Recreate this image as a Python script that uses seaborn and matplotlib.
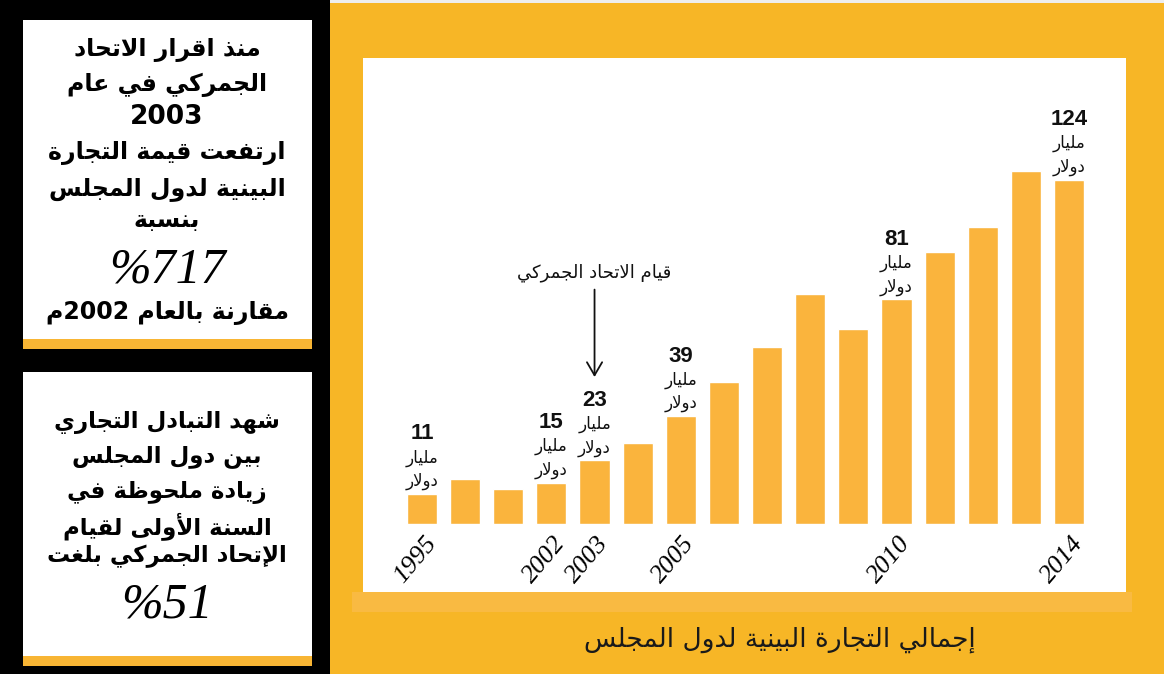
import re
import matplotlib
matplotlib.use("Agg")
import matplotlib.pyplot as plt
import matplotlib.transforms as mtransforms
from matplotlib.patches import Rectangle
import pandas as pd
import seaborn as sns

# ---- data -------------------------------------------------------------
years = ["1995", "2000", "2001", "2002", "2003", "2004", "2005", "2006",
         "2007", "2008", "2009", "2010", "2011", "2012", "2013", "2014"]
trade_bn_usd = [11, 16.2, 12.7, 15, 23, 29.1, 39, 51.3,
                63.7, 82.8, 70.1, 81, 98.1, 106.8, 127.2, 124]
tick_years = ["1995", "2002", "2003", "2005", "2010", "2014"]
labelled_years = ["1995", "2002", "2003", "2005", "2010", "2014"]
union_year = "2003"

unit_line1 = "مليار"
unit_line2 = "دولار"
union_note = "قيام الاتحاد الجمركي"
caption = "إجمالي التجارة البينية لدول المجلس"

box1_lines = ["منذ اقرار الاتحاد", "الجمركي في عام", "2003",
              "ارتفعت قيمة التجارة", "البينية لدول المجلس", "بنسبة"]
box1_pct = "%717"
box1_tail = "مقارنة بالعام 2002م"
box2_lines = ["شهد التبادل التجاري", "بين دول المجلس", "زيادة ملحوظة في",
              "السنة الأولى لقيام", "الإتحاد الجمركي بلغت"]
box2_pct = "%51"

# ---- minimal Arabic shaping (contextual forms + right-to-left order) ---
RIGHT_JOIN = {"آ": 0xFE81, "أ": 0xFE83, "ؤ": 0xFE85, "إ": 0xFE87, "ا": 0xFE8D,
              "ة": 0xFE93, "د": 0xFEA9, "ذ": 0xFEAB, "ر": 0xFEAD, "ز": 0xFEAF,
              "و": 0xFEED, "ى": 0xFEEF}
DUAL_JOIN = {"ئ": 0xFE89, "ب": 0xFE8F, "ت": 0xFE95, "ث": 0xFE99, "ج": 0xFE9D,
             "ح": 0xFEA1, "خ": 0xFEA5, "س": 0xFEB1, "ش": 0xFEB5, "ص": 0xFEB9,
             "ض": 0xFEBD, "ط": 0xFEC1, "ظ": 0xFEC5, "ع": 0xFEC9, "غ": 0xFECD,
             "ف": 0xFED1, "ق": 0xFED5, "ك": 0xFED9, "ل": 0xFEDD, "م": 0xFEE1,
             "ن": 0xFEE5, "ه": 0xFEE9, "ي": 0xFEF1}
LAM_ALEF = {"آ": 0xFEF5, "أ": 0xFEF7, "إ": 0xFEF9, "ا": 0xFEFB}


def _shape(s):
    out, i, n = [], 0, len(s)
    while i < n:
        c = s[i]
        join_prev = i > 0 and s[i - 1] in DUAL_JOIN
        if c == "ل" and i + 1 < n and s[i + 1] in LAM_ALEF:
            out.append(chr(LAM_ALEF[s[i + 1]] + (1 if join_prev else 0)))
            i += 2
            continue
        if c in DUAL_JOIN:
            nxt = s[i + 1] if i + 1 < n else ""
            join_next = nxt in DUAL_JOIN or nxt in RIGHT_JOIN
            off = (1 if join_prev else 0) + (2 if join_next else 0)
            out.append(chr(DUAL_JOIN[c] + off))
        elif c in RIGHT_JOIN:
            out.append(chr(RIGHT_JOIN[c] + (1 if join_prev else 0)))
        else:
            out.append(c)
        i += 1
    return "".join(out)


def ar(s):
    shaped = _shape(s)
    runs = re.findall(r"[0-9%.,]+|[^0-9%.,]+", shaped)
    return "".join(r if r[0] in "0123456789%.," else r[::-1] for r in reversed(runs))


# ---- figure -----------------------------------------------------------
sns.set_style("white")
plt.rcParams["font.family"] = ["DejaVu Sans"]

W, H = 1164, 674
fig = plt.figure(figsize=(W / 100, H / 100), dpi=100)
fig.patch.set_facecolor("black")


def fx(px):
    return px / W


def fy(py):
    return 1 - py / H


def frect(x0, y0, x1, y1, color):
    fig.patches.append(Rectangle((fx(x0), fy(y1)), fx(x1) - fx(x0), fy(y0) - fy(y1),
                                 transform=fig.transFigure, facecolor=color,
                                 edgecolor="none", zorder=-5))


ORANGE = "#F7B626"
BAR = "#FAB43D"
BAND = "#F9BA42"
STRIP = "#F8B534"

# right panel
frect(330, 0, W, 3, "#EEEEEE")
frect(330, 3, W, H, ORANGE)
frect(352, 592, 1132, 612, BAND)
frect(363, 58, 1126, 592, "white")

# left info boxes
frect(23, 20, 312, 339, "white")
frect(23, 339, 312, 349, STRIP)
frect(23, 372, 312, 656, "white")
frect(23, 656, 312, 666, STRIP)

CX = 167
box1_y = [50, 85, 117, 153, 189, 220]
for txt, y in zip(box1_lines, box1_y):
    size = 19 if txt.isdigit() else 17
    fig.text(fx(CX), fy(y), ar(txt), ha="center", va="center",
             fontsize=size, fontweight="bold", color="black")
fig.text(fx(CX), fy(270), box1_pct, ha="center", va="center", fontsize=36,
         family="Liberation Serif", style="italic", color="black")
fig.text(fx(CX), fy(313), ar(box1_tail), ha="center", va="center",
         fontsize=17, fontweight="bold", color="black")

for txt, y in zip(box2_lines, [422, 457, 492, 526, 556]):
    fig.text(fx(CX), fy(y), ar(txt), ha="center", va="center",
             fontsize=16.5, fontweight="bold", color="black")
fig.text(fx(CX), fy(605), box2_pct, ha="center", va="center", fontsize=36,
         family="Liberation Serif", style="italic", color="black")

fig.text(fx(780), fy(640), ar(caption), ha="center", va="center",
         fontsize=19, color="#1a1a1a")

# ---- bar chart ----------------------------------------------------------
base_py, px_per_unit = 524.3, 2.78
ax = fig.add_axes([fx(363), fy(base_py), fx(1126) - fx(363), (base_py - 58) / H])
ax.set_facecolor("none")

df = pd.DataFrame({"year": years, "trade": trade_bn_usd})
sns.barplot(data=df, x="year", y="trade", order=years, color=BAR,
            saturation=1, width=0.7, ax=ax)

slot = 43.13
ax.set_xlim(-(422 - 363) / slot, len(years) - 1 + (1126 - 1069) / slot)
ax.set_ylim(0, (base_py - 58) / px_per_unit)
ax.set_yticks([])
ax.set_xlabel("")
ax.set_ylabel("")
for sp in ax.spines.values():
    sp.set_visible(False)

tick_pos = [years.index(y) for y in tick_years]
ax.set_xticks(tick_pos)
ax.set_xticklabels(tick_years, rotation=50, ha="center", va="top",
                   family="Liberation Serif", style="italic", fontsize=19,
                   color="black")
ax.tick_params(axis="x", length=0, pad=6, labelcolor="black")
shift = mtransforms.ScaledTranslation(-5 / 72, 0, fig.dpi_scale_trans)
for lbl in ax.get_xticklabels():
    lbl.set_transform(lbl.get_transform() + shift)

for y in labelled_years:
    i = years.index(y)
    v = trade_bn_usd[i]
    ax.annotate(f"{v:g}", xy=(i, v), xytext=(0, 43), textcoords="offset points",
                ha="center", va="center", fontsize=16, fontweight="bold",
                family="Liberation Sans", color="#111111")
    ax.annotate(ar(unit_line1), xy=(i, v), xytext=(0, 26), textcoords="offset points",
                ha="center", va="center", fontsize=12, color="#111111")
    ax.annotate(ar(unit_line2), xy=(i, v), xytext=(0, 9), textcoords="offset points",
                ha="center", va="center", fontsize=12, color="#111111")

iu = years.index(union_year)
ax.annotate(ar(union_note), xy=(iu, trade_bn_usd[iu]), xytext=(0, 135),
            textcoords="offset points", ha="center", va="center", fontsize=13,
            color="#111111",
            arrowprops=dict(arrowstyle="->,head_length=0.72,head_width=0.42",
                            color="#111111", lw=1.3, shrinkA=3, shrinkB=60))

fig.savefig("out.png", dpi=100, facecolor=fig.get_facecolor())
